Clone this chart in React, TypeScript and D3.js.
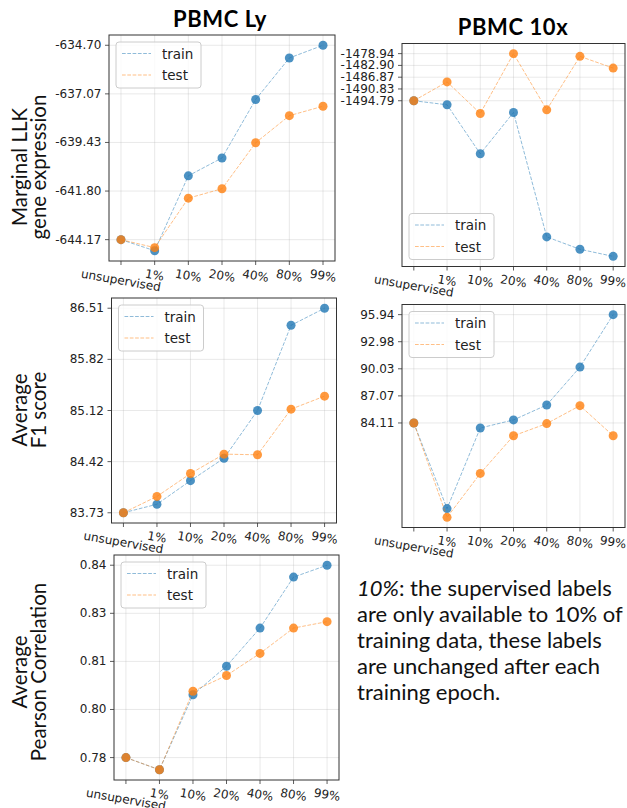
import React from "react";
import * as d3 from "d3";

const categories = ["unsupervised", "1%", "10%", "20%", "40%", "80%", "99%"];

const llkLyTrain = [-644.17, -644.71, -641.06, -640.19, -637.34, -635.32, -634.7];
const llkLyTest = [-644.17, -644.56, -642.15, -641.69, -639.45, -638.13, -637.67];
const llkLyTicks = [-644.17, -641.8025, -639.435, -637.0675, -634.7];
const llkLyTickLabels = ["-644.17", "-641.80", "-639.43", "-637.07", "-634.70"];

const llk10xTrain = [-1494.79, -1496.15, -1512.64, -1498.73, -1540.6, -1544.77, -1547.15];
const llk10xTest = [-1494.79, -1488.45, -1499.07, -1478.94, -1497.84, -1479.86, -1483.8];
const llk10xTicks = [-1494.79, -1490.8275, -1486.865, -1482.9025, -1478.94];
const llk10xTickLabels = ["-1494.79", "-1490.83", "-1486.87", "-1482.90", "-1478.94"];

const f1LyTrain = [83.73, 83.846, 84.166, 84.471, 85.12, 86.278, 86.51];
const f1LyTest = [83.73, 83.952, 84.263, 84.527, 84.518, 85.138, 85.315];
const f1LyTicks = [83.73, 84.425, 85.12, 85.815, 86.51];
const f1LyTickLabels = ["83.73", "84.42", "85.12", "85.82", "86.51"];

const f110xTrain = [84.11, 74.76, 83.56, 84.44, 86.07, 90.21, 95.94];
const f110xTest = [84.11, 73.8, 78.6, 82.71, 84.04, 86.0, 82.71];
const f110xTicks = [84.11, 87.0675, 90.025, 92.9825, 95.94];
const f110xTickLabels = ["84.11", "87.07", "90.03", "92.98", "95.94"];

const corrLyTrain = [0.78, 0.7762, 0.7996, 0.8085, 0.8204, 0.8363, 0.84];
const corrLyTest = [0.78, 0.7762, 0.8007, 0.8056, 0.8125, 0.8204, 0.8224];
const corrLyTicks = [0.78, 0.795, 0.81, 0.825, 0.84];
const corrLyTickLabels = ["0.78", "0.80", "0.81", "0.83", "0.84"];

const seriesNames = ["train", "test"];
const titles = ["PBMC Ly", "PBMC 10x"];
const yLabels = [
  ["Marginal LLK", "gene expression"],
  ["Average", "F1 score"],
  ["Average", "Pearson Correlation"],
];
const noteLines = [
  "the supervised labels",
  "are only available to 10% of",
  "training data, these labels",
  "are unchanged after each",
  "training epoch.",
];

const COLORS = ["#1f77b4", "#ff7f0e"];
const TICK_FONT = "'DejaVu Sans', sans-serif";
const HUMAN_FONT = "Lato, 'Open Sans', sans-serif";

let ctx: CanvasRenderingContext2D | null = null;
function measure(s: string, font: string) {
  if (typeof document === "undefined") return s.length * 7;
  if (!ctx) ctx = document.createElement("canvas").getContext("2d");
  if (!ctx) return s.length * 7;
  ctx.font = font;
  return ctx.measureText(s).width;
}

type PanelProps = {
  left: number;
  top: number;
  width: number;
  height: number;
  train: number[];
  test: number[];
  ticks: number[];
  tickLabels: string[];
  legendBottom?: boolean;
};

function Panel(p: PanelProps) {
  const { left, top, width, height } = p;
  const all = [...p.train, ...p.test];
  const [mn, mx] = d3.extent(all) as [number, number];
  const pad = (mx - mn) * 0.05;
  const y = d3.scaleLinear().domain([mn - pad, mx + pad]).range([top + height, top]);
  const x = d3
    .scaleLinear()
    .domain([-0.356, categories.length - 1 + 0.356])
    .range([left, left + width]);
  const line = d3
    .line<number>()
    .x((_, i) => x(i))
    .y((d) => y(d));
  const bottom = top + height;
  const fs = 12;
  const angle = 10;
  const rad = (angle * Math.PI) / 180;

  const lgX = left + 7;
  const lgW = 85;
  const lgH = 46;
  const lgY = p.legendBottom ? bottom - 7 - lgH : top + 7;

  return (
    <g>
      {categories.map((_, i) => (
        <line
          key={"gx" + i}
          x1={x(i)}
          x2={x(i)}
          y1={top}
          y2={bottom}
          stroke="#b0b0b0"
          strokeOpacity={0.35}
          strokeWidth={0.8}
        />
      ))}
      {p.ticks.map((t, i) => (
        <line
          key={"gy" + i}
          x1={left}
          x2={left + width}
          y1={y(t)}
          y2={y(t)}
          stroke="#b0b0b0"
          strokeOpacity={0.35}
          strokeWidth={0.8}
        />
      ))}
      {[p.train, p.test].map((s, si) => (
        <g key={"s" + si}>
          <path
            d={line(s) || ""}
            fill="none"
            stroke={COLORS[si]}
            strokeOpacity={0.5}
            strokeWidth={1}
            strokeDasharray="3.7,1.6"
          />
          {s.map((v, i) => (
            <circle key={i} cx={x(i)} cy={y(v)} r={4.5} fill={COLORS[si]} fillOpacity={0.8} />
          ))}
        </g>
      ))}
      <rect x={left} y={top} width={width} height={height} fill="none" stroke="#333" strokeWidth={1} />
      {p.ticks.map((t, i) => (
        <g key={"ty" + i}>
          <line x1={left - 4} x2={left} y1={y(t)} y2={y(t)} stroke="#333" strokeWidth={0.8} />
          <text
            x={left - 7.5}
            y={y(t)}
            textAnchor="end"
            dominantBaseline="central"
            fontFamily={TICK_FONT}
            fontSize={fs}
            fill="#222"
          >
            {p.tickLabels[i]}
          </text>
        </g>
      ))}
      {categories.map((c, i) => {
        const w = measure(c, `${fs}px 'DejaVu Sans'`);
        const h = fs * 1.1;
        const cy = bottom + 6 + (w * Math.sin(rad) + h * Math.cos(rad)) / 2;
        return (
          <g key={"tx" + i}>
            <line x1={x(i)} x2={x(i)} y1={bottom} y2={bottom + 4} stroke="#333" strokeWidth={0.8} />
            <text
              x={x(i)}
              y={cy}
              textAnchor="middle"
              dominantBaseline="central"
              transform={`rotate(${angle},${x(i)},${cy})`}
              fontFamily={TICK_FONT}
              fontSize={fs}
              fill="#222"
            >
              {c}
            </text>
          </g>
        );
      })}
      <rect
        x={lgX}
        y={lgY}
        width={lgW}
        height={lgH}
        rx={3}
        fill="#fff"
        fillOpacity={0.8}
        stroke="#cccccc"
        strokeWidth={1}
      />
      {seriesNames.map((n, i) => {
        const ly = lgY + 11.5 + i * 21.5;
        return (
          <g key={"lg" + i}>
            <line
              x1={lgX + 6}
              x2={lgX + 35}
              y1={ly}
              y2={ly}
              stroke={COLORS[i]}
              strokeOpacity={0.5}
              strokeWidth={1}
              strokeDasharray="3.7,1.6"
            />
            <text
              x={lgX + 46}
              y={ly}
              dominantBaseline="central"
              fontFamily={TICK_FONT}
              fontSize={13.5}
              fill="#222"
            >
              {n}
            </text>
          </g>
        );
      })}
    </g>
  );
}

function YLabel({ cy, lines }: { cy: number; lines: string[] }) {
  return (
    <g>
      {lines.map((l, i) => {
        const bx = i === 0 ? 27 : 46;
        return (
          <text
            key={i}
            x={bx}
            y={cy}
            transform={`rotate(-90,${bx},${cy})`}
            textAnchor="middle"
            fontFamily={HUMAN_FONT}
            fontSize={20.5}
            fill="#111"
          >
            {l}
          </text>
        );
      })}
    </g>
  );
}

export default function App() {
  return (
    <svg
      width={627}
      height={808}
      style={{ position: "absolute", left: 0, top: 0, background: "#fff" }}
    >
      <text x={220} y={27} textAnchor="middle" fontFamily={HUMAN_FONT} fontWeight={700} fontSize={22} letterSpacing={0.6} fill="#000">
        {titles[0]}
      </text>
      <text x={513} y={35} textAnchor="middle" fontFamily={HUMAN_FONT} fontWeight={700} fontSize={22} letterSpacing={0.6} fill="#000">
        {titles[1]}
      </text>

      <Panel left={109} top={35} width={226} height={226} train={llkLyTrain} test={llkLyTest} ticks={llkLyTicks} tickLabels={llkLyTickLabels} />
      <Panel left={402} top={43.5} width={223} height={223} train={llk10xTrain} test={llk10xTest} ticks={llk10xTicks} tickLabels={llk10xTickLabels} legendBottom />
      <Panel left={111.5} top={298} width={225} height={225} train={f1LyTrain} test={f1LyTest} ticks={f1LyTicks} tickLabels={f1LyTickLabels} />
      <Panel left={402} top={304.5} width={223} height={223} train={f110xTrain} test={f110xTest} ticks={f110xTicks} tickLabels={f110xTickLabels} />
      <Panel left={114} top={555} width={225} height={225} train={corrLyTrain} test={corrLyTest} ticks={corrLyTicks} tickLabels={corrLyTickLabels} />

      <YLabel cy={167} lines={yLabels[0]} />
      <YLabel cy={410} lines={yLabels[1]} />
      <YLabel cy={672} lines={yLabels[2]} />

      <g fontFamily={HUMAN_FONT} fontSize={22} fill="#111">
        {noteLines.map((l, i) => (
          <text key={i} x={357} y={596 + i * 26}>
            {i === 0 ? (
              <>
                <tspan fontStyle="italic">10%</tspan>
                {": " + l}
              </>
            ) : (
              l
            )}
          </text>
        ))}
      </g>
    </svg>
  );
}
